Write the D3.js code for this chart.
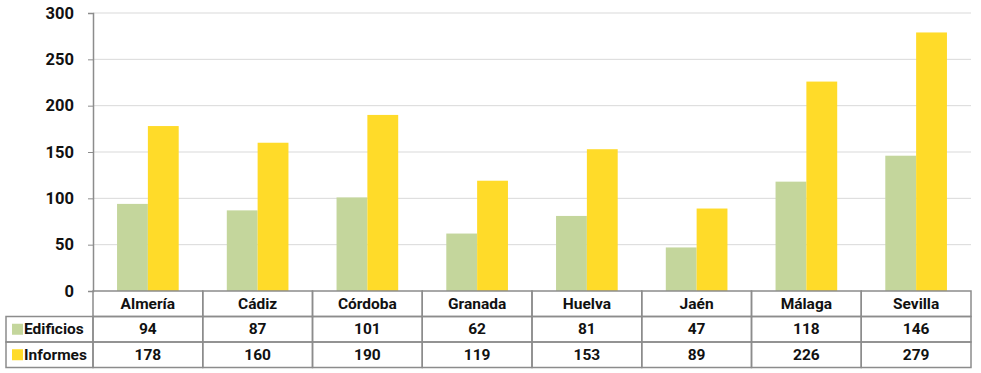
<!DOCTYPE html>
<html lang="es">
<head>
<meta charset="UTF-8">
<title>Edificios e informes por provincia</title>
<style>
    body { margin: 0; background: #fff; }
    svg { display: block; font-family: Roboto, "Liberation Sans", sans-serif; }
    .grid line { stroke: #d9d9d9; stroke-width: 1; }
    .cell { fill: none; stroke: #8c8c8c; stroke-width: 1.5; }
    .txt { font-size: 15.5px; font-weight: 700; fill: #111; }
</style>
<script src="https://d3js.org/d3.v7.min.js"></script>
</head>
<body>
<svg width="981" height="373"></svg>
<script>
    const provincias = ["Almería", "Cádiz", "Córdoba", "Granada", "Huelva", "Jaén", "Málaga", "Sevilla"];
    const edificios = [94, 87, 101, 62, 81, 47, 118, 146];
    const informes = [178, 160, 190, 119, 153, 89, 226, 279];
    const seriesNames = ["Edificios", "Informes"];
    const seriesColors = ["#c4d69c", "#ffdb29"];
    const yTicks = [0, 50, 100, 150, 200, 250, 300];

    const svg = d3.select("svg");
    const plotLeft = 93, plotRight = 971, plotTop = 13, plotBottom = 291;
    const rowH = 25.5;

    const x = d3.scaleBand().domain(provincias).range([plotLeft, plotRight]).paddingInner(0).paddingOuter(0);
    const inner = d3.scaleBand().domain(seriesNames).range([0, x.bandwidth()]).paddingOuter(0.78).paddingInner(0);
    const y = d3.scaleLinear().domain([0, 300]).range([plotBottom, plotTop]);

    // grid
    svg.append("g").attr("class", "grid")
        .selectAll("line").data(yTicks.slice(1)).enter().append("line")
        .attr("x1", plotLeft).attr("x2", plotRight)
        .attr("y1", d => y(d)).attr("y2", d => y(d));

    // bars
    const data = provincias.map((p, i) => ({ p, vals: [edificios[i], informes[i]] }));
    const grp = svg.append("g").selectAll("g").data(data).enter().append("g")
        .attr("transform", d => `translate(${x(d.p)},0)`);
    grp.selectAll("rect").data(d => d.vals.map((v, j) => ({ v, s: seriesNames[j], c: seriesColors[j] })))
        .enter().append("rect")
        .attr("x", d => inner(d.s))
        .attr("width", inner.bandwidth())
        .attr("y", d => y(d.v))
        .attr("height", d => plotBottom - y(d.v))
        .attr("fill", d => d.c);

    // y axis
    const yAxis = svg.append("g").attr("transform", `translate(${plotLeft},0)`)
        .call(d3.axisLeft(y).tickValues(yTicks).tickSize(5).tickPadding(14));
    yAxis.select(".domain").attr("stroke", "#8c8c8c").attr("stroke-width", 1.5);
    yAxis.selectAll(".tick line").attr("stroke", "#8c8c8c");
    yAxis.attr("font-family", null).attr("font-size", null);
    yAxis.selectAll("text").attr("class", "txt").style("font-size", "16.5px");

    // data table
    const table = svg.append("g");
    provincias.forEach(p => {
        table.append("rect").attr("class", "cell")
            .attr("x", x(p)).attr("y", plotBottom).attr("width", x.bandwidth()).attr("height", rowH);
        table.append("text").attr("class", "txt")
            .attr("x", x(p) + x.bandwidth() / 2).attr("y", plotBottom + rowH / 2)
            .attr("text-anchor", "middle").attr("dominant-baseline", "central").text(p);
    });
    const rows = [edificios, informes];
    rows.forEach((vals, r) => {
        const ry = plotBottom + rowH * (r + 1);
        table.append("rect").attr("class", "cell")
            .attr("x", 6).attr("y", ry).attr("width", plotLeft - 6).attr("height", rowH);
        table.append("rect")
            .attr("x", 12).attr("y", ry + rowH / 2 - 5.5).attr("width", 11).attr("height", 11)
            .attr("fill", seriesColors[r]);
        table.append("text").attr("class", "txt")
            .attr("x", 24).attr("y", ry + rowH / 2)
            .attr("dominant-baseline", "central").text(seriesNames[r]);
        vals.forEach((v, i) => {
            const p = provincias[i];
            table.append("rect").attr("class", "cell")
                .attr("x", x(p)).attr("y", ry).attr("width", x.bandwidth()).attr("height", rowH);
            table.append("text").attr("class", "txt")
                .attr("x", x(p) + x.bandwidth() / 2).attr("y", ry + rowH / 2)
                .attr("text-anchor", "middle").attr("dominant-baseline", "central").text(v);
        });
    });
</script>
</body>
</html>
